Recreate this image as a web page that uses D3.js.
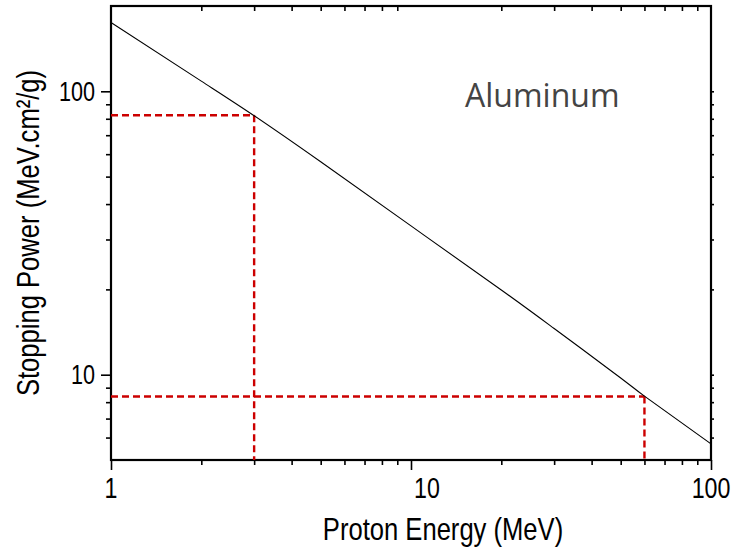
<!DOCTYPE html>
<html>
<head>
<meta charset="utf-8">
<script src="https://cdn.jsdelivr.net/npm/d3@7"></script>
<style>
  html, body { margin: 0; padding: 0; background: #fff; }
  svg { display: block; }
</style>
</head>
<body>
<svg id="chart" width="733" height="550"></svg>
<script>
// ---- data ----
const energy = [1, 2, 3, 5, 10, 20, 30, 50, 60, 100];              // MeV
const stopping = [175, 108.6, 82.0, 56.4, 33.5, 19.9, 14.55, 9.74, 8.4, 5.7]; // MeV.cm²/g
const markerEnergy = [3, 60];
const markerStopping = [82.3, 8.38];
const xMajorTicks = [1, 10, 100];
const xMinorTicks = [2, 3, 4, 5, 6, 7, 8, 9, 20, 30, 40, 50, 60, 70, 80, 90];
const yMajorTicks = [10, 100];
const yMinorTicks = [6, 7, 8, 9, 20, 30, 40, 50, 60, 70, 80, 90];
const xTickLabels = ["1", "10", "100"];
const yTickLabels = ["10", "100"];
const xTitle = "Proton Energy (MeV)";
const yTitle = "Stopping Power (MeV.cm²/g)";
const annotation = "Aluminum";

// ---- layout ----
const svg = d3.select("#chart");
const L = 111, R = 711, T = 6, B = 460;
const x = d3.scaleLog().domain([1, 100]).range([L, R]);
const y = d3.scaleLog().domain([5, 200]).range([B, T]);
const axisFont = "'Liberation Sans', Arial, sans-serif";

function styleAxis(g) {
  g.select(".domain").remove();
  g.selectAll(".tick line").attr("stroke", "#000").attr("stroke-width", 1.6);
}

// bottom axis
svg.append("g").attr("transform", `translate(0,${B})`)
  .call(d3.axisBottom(x).tickValues(xMinorTicks).tickSize(5).tickFormat("")).call(styleAxis);
svg.append("g").attr("transform", `translate(0,${B})`)
  .call(d3.axisBottom(x).tickValues(xMajorTicks).tickSize(10).tickFormat("")).call(styleAxis);
// top axis (inward ticks)
svg.append("g").attr("transform", `translate(0,${T})`)
  .call(d3.axisTop(x).tickValues(xMinorTicks).tickSize(-5).tickFormat("")).call(styleAxis);
// left axis
svg.append("g").attr("transform", `translate(${L},0)`)
  .call(d3.axisLeft(y).tickValues(yMinorTicks).tickSize(5).tickFormat("")).call(styleAxis);
svg.append("g").attr("transform", `translate(${L},0)`)
  .call(d3.axisLeft(y).tickValues(yMajorTicks).tickSize(10).tickFormat("")).call(styleAxis);
// right axis
svg.append("g").attr("transform", `translate(${R},0)`)
  .call(d3.axisRight(y).tickValues(yMinorTicks.concat(yMajorTicks)).tickSize(3).tickFormat("")).call(styleAxis);

// frame
svg.append("rect")
  .attr("x", L).attr("y", T).attr("width", R - L).attr("height", B - T)
  .attr("fill", "none").attr("stroke", "#000").attr("stroke-width", 2.2);

// tick labels (condensed look via horizontal scale)
svg.append("g").selectAll("text").data(xMajorTicks).join("text")
  .attr("transform", (d) => `translate(${x(d) + (d === 10 ? 16 : 0)},498) scale(0.8,1)`)
  .attr("text-anchor", "middle")
  .attr("font-family", axisFont).attr("font-size", 29).attr("fill", "#000")
  .text((d, i) => xTickLabels[i]);

svg.append("g").selectAll("text").data(yMajorTicks).join("text")
  .attr("transform", (d) => `translate(95,${y(d) + 9.5}) scale(0.8,1)`)
  .attr("text-anchor", "end")
  .attr("font-family", axisFont).attr("font-size", 27).attr("fill", "#000")
  .text((d, i) => yTickLabels[i]);

// axis titles
svg.append("text")
  .attr("transform", "translate(443,540) scale(0.8,1)")
  .attr("text-anchor", "middle")
  .attr("font-family", axisFont).attr("font-size", 32).attr("fill", "#000")
  .text(xTitle);

svg.append("text")
  .attr("transform", "translate(39,233) rotate(-90) scale(0.8,1)")
  .attr("text-anchor", "middle")
  .attr("font-family", axisFont).attr("font-size", 32).attr("fill", "#000")
  .text(yTitle);

// red dashed guide lines
const markers = markerEnergy.map((e, i) => ({ e, s: markerStopping[i] }));
const guides = svg.append("g")
  .attr("stroke", "#cc0000").attr("stroke-width", 2.4)
  .attr("stroke-dasharray", "7,4").attr("fill", "none");
markers.forEach((m) => {
  guides.append("line")
    .attr("x1", x(1)).attr("x2", x(m.e))
    .attr("y1", y(m.s)).attr("y2", y(m.s));
  guides.append("line")
    .attr("x1", x(m.e)).attr("x2", x(m.e))
    .attr("y1", y(m.s)).attr("y2", B);
});

// stopping-power curve
const pts = energy.map((e, i) => [x(e), y(stopping[i])]);
svg.append("path")
  .attr("d", d3.line().curve(d3.curveNatural)(pts))
  .attr("fill", "none").attr("stroke", "#000").attr("stroke-width", 1.1);

// annotation
svg.append("text")
  .attr("x", 465).attr("y", 107)
  .attr("font-family", "'Open Sans', 'Noto Sans', sans-serif")
  .attr("font-size", 32).attr("fill", "#444")
  .text(annotation);
</script>
</body>
</html>
